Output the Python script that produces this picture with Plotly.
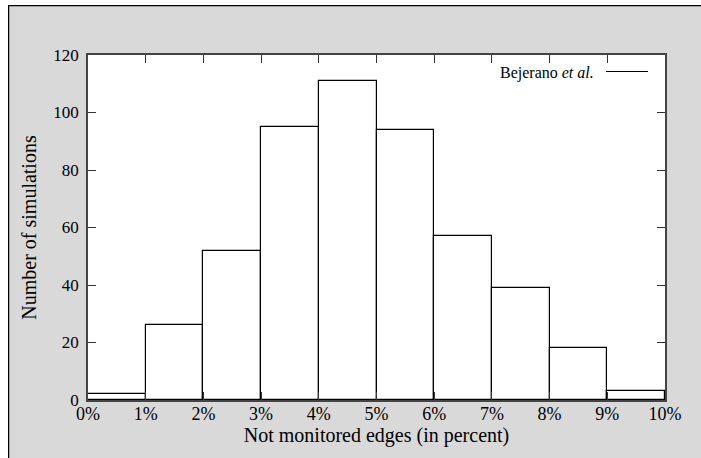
import plotly.graph_objects as go

# Data
bin_edges = [0, 1, 2, 3, 4, 5, 6, 7, 8, 9, 10]
counts = [2, 26, 52, 95, 111, 94, 57, 39, 18, 3]
x_tick_vals = [0, 1, 2, 3, 4, 5, 6, 7, 8, 9, 10]
x_tick_text = ["0%", "1%", "2%", "3%", "4%", "5%", "6%", "7%", "8%", "9%", "10%"]
y_tick_vals = [0, 20, 40, 60, 80, 100, 120]
series_name = "Bejerano <i>et al.</i>"

centers = [(a + b) / 2 for a, b in zip(bin_edges[:-1], bin_edges[1:])]
widths = [b - a for a, b in zip(bin_edges[:-1], bin_edges[1:])]

FONT = "Liberation Serif"
OX, OY = 8, 5          # page offset of the figure
W, H = 701 - OX, 458 - OY
L, R, T, B = 88 - OX, 701 - 665, 55 - OY, 458 - 400
pw = W - L - R
ph = H - T - B

def px2x(p):  # page px -> paper fraction
    return (p - OX - L) / pw

def py2y(p):
    return 1 - (p - OY - T) / ph

fig = go.Figure()
fig.add_trace(go.Bar(
    x=centers, y=counts, width=widths,
    marker=dict(color="white", line=dict(color="black", width=1.2)),
    showlegend=False,
))

shapes = [
    dict(type="line", xref="paper", yref="paper", x0=-L / pw, x1=-L / pw, y0=-B / ph - 0.1, y1=1 + T / ph,
         line=dict(color="black", width=2.5)),
    dict(type="line", xref="paper", yref="paper", x0=-L / pw, x1=1 + R / pw + 0.1, y0=1 + T / ph, y1=1 + T / ph,
         line=dict(color="black", width=2.5)),
    dict(type="line", xref="paper", yref="paper", x0=px2x(606), x1=px2x(648), y0=py2y(71.5), y1=py2y(71.5),
         line=dict(color="black", width=1.2)),
]

fig.update_layout(
    width=W, height=H,
    margin=dict(l=L, r=R, t=T, b=B, pad=0),
    paper_bgcolor="#d9d9d9",
    plot_bgcolor="white",
    font=dict(family=FONT, size=17, color="black"),
    bargap=0,
    shapes=shapes,
    annotations=[dict(xref="paper", yref="paper", x=px2x(596), y=py2y(73), xanchor="right", yanchor="middle",
                      text=series_name, showarrow=False, font=dict(family=FONT, size=16))],
    xaxis=dict(range=[0, 10], tickvals=x_tick_vals, ticktext=x_tick_text, ticks="inside", ticklen=8,
               tickwidth=1.2, tickcolor="#333", mirror="allticks", showline=True, linecolor="#444", linewidth=1.5,
               showgrid=False, zeroline=False, ticklabelstandoff=-3,
               title=dict(text="Not monitored edges (in percent)", standoff=0, font=dict(size=20)),
               tickfont=dict(size=18)),
    yaxis=dict(range=[0, 120], tickvals=y_tick_vals, ticks="inside", ticklen=8, tickwidth=1.2, tickcolor="#333",
               mirror="allticks", showline=True, linecolor="#444", linewidth=1.5, showgrid=False, zeroline=False,
               ticklabelstandoff=4,
               title=dict(text="Number of simulations", standoff=11, font=dict(size=20)),
               tickfont=dict(size=17)),
)

fig.write_html(
    "out.html",
    post_script=(
        "document.body.style.margin='%dpx 0 0 %dpx';"
        "document.body.style.overflow='hidden';"
        "document.documentElement.style.overflow='hidden';" % (OY, OX)
    ),
)
